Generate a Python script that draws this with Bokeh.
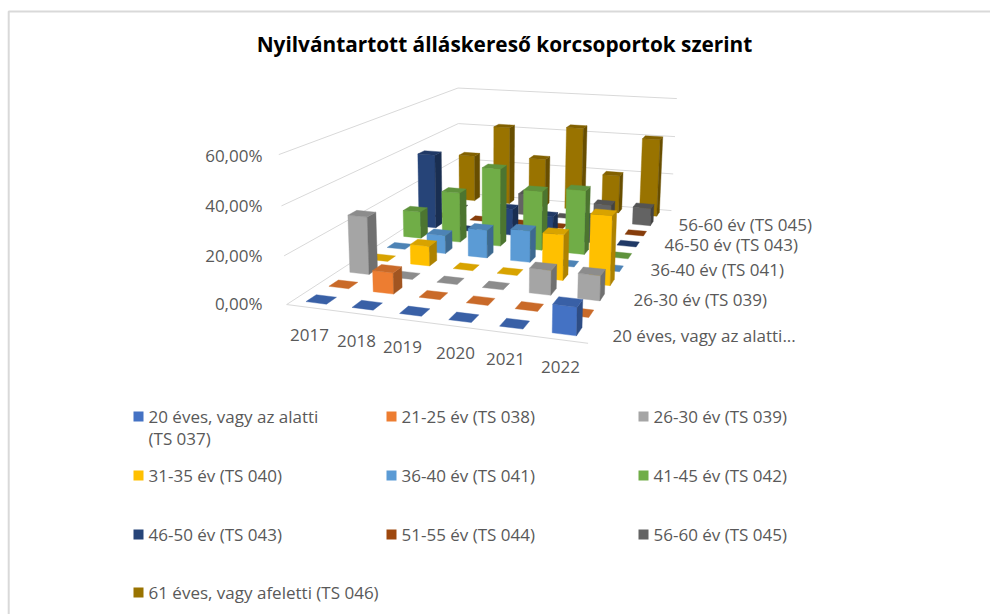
import numpy as np
from bokeh.plotting import figure, ColumnDataSource
from bokeh.models import Range1d
from bokeh.embed import file_html
from bokeh.resources import INLINE
from bokeh.core.properties import value

title = "Nyilvántartott álláskereső korcsoportok szerint"
years = ["2017", "2018", "2019", "2020", "2021", "2022"]
series_names = ["20 éves, vagy az alatti (TS 037)", "21-25 év (TS 038)", "26-30 év (TS 039)",
                "31-35 év (TS 040)", "36-40 év (TS 041)", "41-45 év (TS 042)",
                "46-50 év (TS 043)", "51-55 év (TS 044)", "56-60 év (TS 045)",
                "61 éves, vagy afeletti (TS 046)"]
colors = ["#4472C4", "#ED7D31", "#A5A5A5", "#FFC000", "#5B9BD5",
          "#70AD47", "#264478", "#9E480E", "#636363", "#997300"]
s20 = [0, 0, 0, 0, 0, 11]
s21 = [0, 9, 0, 0, 0, 0]
s26 = [25.5, 0, 0, 0, 10.5, 10.5]
s31 = [0, 9, 0, 0, 20, 30]
s36 = [0, 8.5, 13, 14.5, 0, 0]
s41 = [13, 24, 37, 28, 30, 0]
s46 = [37, 0, 13, 11, 12, 0]
s51 = [0, 0, 0, 0, 0, 0]
s56 = [0, 0, 11, 0, 9, 9]
s61 = [25, 42, 26, 44, 20, 40.5]
table = [s20, s21, s26, s31, s36, s41, s46, s51, s56, s61]
z_ticks = [0, 20, 40, 60]
z_labels = ["0,00%", "20,00%", "40,00%", "60,00%"]

# camera: fit a projective map of the unit-floor box to its picture
src = np.array([[0,0,0],[1,0,0],[0,1,0],[1,1,0],[0,0,60],[0,1,60],[1,1,60]], float)
dst = np.array([[286,303],[588,343],[458,193],[671,210],[278,155],[458,87],[676,98]], float)
A, b = [], []
for (u,v,z),(x,y) in zip(src, dst):
    A.append([u,v,z,1,0,0,0,0,-x*u,-x*v,-x*z]); b.append(x)
    A.append([0,0,0,0,u,v,z,1,-y*u,-y*v,-y*z]); b.append(y)
P = np.linalg.lstsq(np.array(A), np.array(b), rcond=None)[0]
P = np.append(P, 1).reshape(3, 4)
def proj(u, v, z):
    q = P @ np.array([u, v, z, 1.0])
    return q[0]/q[2], q[1]/q[2]

def shade(c, f):
    r, g, bb = int(c[1:3],16), int(c[3:5],16), int(c[5:7],16)
    return "#%02X%02X%02X" % (int(r*f), int(g*f), int(bb*f))

p = figure(width=990, height=614, output_backend="svg", toolbar_location=None,
           x_range=Range1d(0, 990), y_range=Range1d(614, 0), min_border=0,
           background_fill_color="white", border_fill_color="white", outline_line_color=None)
p.xaxis.visible = False
p.yaxis.visible = False
p.grid.visible = False

GRID = "#D9D9D9"
# chart frame
p.line([8.2, 8.2, 990], [614, 11, 11], line_color="#D9D9D9", line_width=2)

# walls and floor gridlines
for z in z_ticks:
    pts = [proj(0,0,z), proj(0,1,z), proj(1,1,z)]
    p.line([a[0] for a in pts], [a[1] for a in pts], line_color=GRID, line_width=1)
pts = [proj(0,0,0), proj(1,0,0)]
p.line([a[0] for a in pts], [a[1] for a in pts], line_color=GRID, line_width=1)

# bars, far row first, left to right
WU, WV = 0.225, 0.22
xs, ys, fc = [], [], []
def face(corners, col):
    q = [proj(*c) for c in corners]
    xs.append([a[0] for a in q]); ys.append([a[1] for a in q]); fc.append(col)
nr, nc = len(table), len(years)
for r in range(nr-1, -1, -1):
    for c in range(nc):
        h = table[r][c]
        u0, u1 = (c+0.5-WU)/nc, (c+0.5+WU)/nc
        v0, v1 = (r+0.5-WV)/nr, (r+0.5+WV)/nr
        col = colors[r]
        if h > 0:
            face([(u0,v0,0),(u1,v0,0),(u1,v0,h),(u0,v0,h)], col)
            face([(u1,v0,0),(u1,v1,0),(u1,v1,h),(u1,v0,h)], shade(col, 0.68))
        face([(u0,v0,h),(u1,v0,h),(u1,v1,h),(u0,v1,h)], shade(col, 0.85))
p.patches("xs", "ys", source=ColumnDataSource(dict(xs=xs, ys=ys, c=fc)),
          fill_color="c", line_color="c", line_width=0.4)

FONT = value("Open Sans")
TXT = "#595959"
def label(x, y, s, size="17px", align="left", color=TXT, style="normal"):
    p.text([x], [y], text=[s], text_font=FONT, text_font_size=size, text_color=color,
           text_align=align, text_baseline="middle", text_font_style=style)

label(504, 43, title, "20.8px", "center", "#000000", "bold")
for t, s, yy in zip(z_ticks, z_labels, [303, 255, 205, 155]):
    label(262, yy, s, align="right")
for s, cx, cy in zip(years, [309, 356, 402, 455, 505, 560], [334, 340, 346, 352, 358, 366]):
    label(cx, cy, s, align="center")
depth = [("20 éves, vagy az alatti...", 612, 335), ("26-30 év (TS 039)", 633, 299),
         ("36-40 év (TS 041)", 650, 269), ("46-50 év (TS 043)", 664, 244),
         ("56-60 év (TS 045)", 678, 224)]
for s, x, y in depth:
    label(x, y, s)

# legend
col_x = [133, 386, 638]
row_y = [416, 475, 534, 592]
mx, my, mc = [], [], []
for i, (name, col) in enumerate(zip(series_names, colors)):
    x = col_x[i % 3]; y = row_y[i // 3]
    mx.append(x + 5); my.append(y); mc.append(col)
    if i == 0:
        label(x + 15, y, "20 éves, vagy az alatti")
        label(x + 15, y + 22, "(TS 037)")
    else:
        label(x + 15, y, name)
p.rect(mx, my, width=10, height=10, fill_color=mc, line_color=None)

open("out.html", "w").write(file_html(p, INLINE))
